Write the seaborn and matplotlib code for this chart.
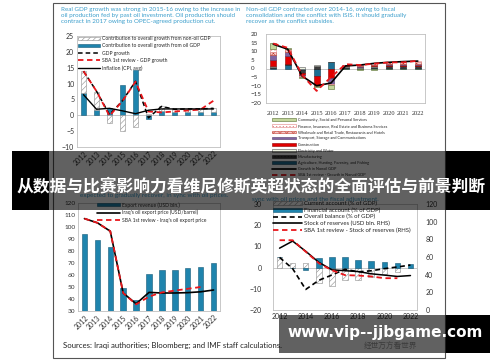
import numpy as np
import matplotlib
matplotlib.use("Agg")
import matplotlib.pyplot as plt
import seaborn as sns
from matplotlib.patches import Rectangle, Patch
from matplotlib.lines import Line2D

# ---------------- data ----------------
years = [2012, 2013, 2014, 2015, 2016, 2017, 2018, 2019, 2020, 2021, 2022]

# Top-left: real GDP growth
tl_oil = [7.0, 1.8, 2.3, 9.6, 14.4, -1.2, 1.2, 1.0, 1.0, 1.0, 1.0]
tl_nonoil = [7.0, 5.6, -2.3, -5.0, -3.7, 0.4, 1.6, 0.9, 1.0, 1.0, 1.2]
tl_gdp = [13.9, 7.6, 0.2, 4.6, 10.7, -0.8, 2.8, 1.9, 2.0, 2.0, 2.2]
tl_sba = [13.9, 7.6, -0.2, 4.5, 10.6, 1.2, 0.9, 1.2, 1.5, 1.8, 4.6]
tl_cpi = [6.5, 1.9, 2.2, 1.4, 0.5, 1.6, 2.0, 2.0, 2.0, 2.0, 2.0]

# Top-right: non-oil GDP contributions by sector
tr_agri = [0.3, 2.3, -1.0, -4.5, 3.5, 0.5, -0.5, 0.3, 0.3, 0.3, 0.3]
tr_manuf = [0.5, 0.3, -1.5, 1.5, 0.3, 0.5, 0.5, 0.8, 1.0, 1.0, 1.0]
tr_elec = [0.6, 0.2, 0.8, 0.5, 0.2, 0.2, 0.2, 0.3, 0.3, 0.3, 0.3]
tr_constr = [3.7, 4.5, -1.0, -4.8, -5.4, 0.2, 0.3, 0.5, 0.6, 0.6, 0.6]
tr_transport = [3.0, 2.4, -0.8, -0.5, -3.3, 0.2, 0.3, 0.4, 0.4, 0.5, 0.5]
tr_wholesale = [1.5, 0.8, -0.3, -0.3, -0.5, 0.3, 0.5, 0.8, 1.0, 1.1, 1.2]
tr_finance = [1.5, 0.8, -0.2, -0.2, -0.3, 0.2, 0.3, 0.3, 0.4, 0.4, 0.4]
tr_community = [3.5, 0.8, -0.5, -0.5, -2.5, -0.5, -0.3, -0.6, -0.4, -0.3, -0.3]
tr_growth = [14.1, 11.2, -4.4, -10.0, -8.4, 1.5, 2.0, 3.0, 3.6, 4.0, 4.3]
tr_sba = [14.5, 12.0, -3.8, -13.0, -5.0, 2.5, 2.0, 2.8, 3.5, 3.6, 4.5]
tr_labels = ["Community, Social and Personal Services",
             "Finance, Insurance, Real Estate and Business Services",
             "Wholesale and Retail Trade, Restaurants and Hotels",
             "Transport, Storage and Communications",
             "Construction",
             "Electricity and Water",
             "Manufacturing",
             "Agriculture, Hunting, Forestry, and Fishing",
             "Growth in Nonoil GDP",
             "SBA 1st review - Growth in Nonoil GDP"]

# Bottom-left: exports
bl_export = [94, 89, 83, 49, 39, 60.5, 64, 64.5, 65.5, 67, 70]
bl_price = [107, 103.5, 96.5, 45, 36, 45.5, 45, 45, 45.3, 46, 47.5]
bl_sba = [107, 103.5, 96.5, 45, 35.5, 42, 45.5, 47, 48.5, 50]

# Bottom-right: balance of payments
br_ca = [4.8, 2.0, 2.4, -7.1, -8.7, -6.0, -6.0, -4.5, -3.2, -2.0, -0.3]
br_fa = [0.0, -0.3, -1.2, 4.4, 5.2, 5.0, 3.8, 3.0, 2.5, 2.3, 1.5]
br_ob = [4.8, -0.5, -10.3, -6.0, -3.5, -0.8, -2.0, -1.5, -0.5, 0.3, 1.2]
br_res = [70, 78, 66.5, 54, 45.5, 44.5, 43.5, 41, 39.5, 38, 39]
br_sba = [79, 79, 66, 53, 45, 39.5, 39, 38, 36, 36]

# ---------------- style ----------------
sns.set_theme(style="white")
plt.rcParams["font.family"] = ["Lato", "DejaVu Sans"]
plt.rcParams["hatch.linewidth"] = 0.4

W, H = 500, 362
fig = plt.figure(figsize=(5, 3.62), dpi=100)


def R(x0, y0, x1, y1):
    return [x0 / W, 1 - y1 / H, (x1 - x0) / W, (y1 - y0) / H]


TXT = "#3d9fcc"
TEAL = "#1f84ad"
GRID = "#bfbfbf"
x = np.arange(len(years))


def frame(ax):
    for s in ax.spines.values():
        s.set_color(GRID)
        s.set_linewidth(0.6)
    ax.tick_params(length=0, colors="#333333", labelsize=5, pad=2)
    ax.set_xlim(-0.5, len(years) - 0.5)
    ax.set_xlabel("")
    ax.set_ylabel("")


def stacked(ax, series, styles, width):
    pos = np.zeros(len(years))
    neg = np.zeros(len(years))
    for vals, st in zip(series, styles):
        v = np.array(vals, dtype=float)
        base = np.where(v >= 0, pos, neg)
        ax.bar(x, v, width=width, bottom=base, linewidth=0.4, zorder=2, **st)
        pos = pos + np.where(v >= 0, v, 0)
        neg = neg + np.where(v < 0, v, 0)


def line(ax, vals, **kw):
    n = len(vals)
    sns.lineplot(x=x[:n], y=vals, ax=ax, zorder=4, **kw)


# document frame
fig.add_artist(Rectangle((53 / W, 1 - 358 / H), (445 - 53) / W, (358 - 3) / H,
                         fill=False, ec="#555555", lw=0.8, transform=fig.transFigure))

# ---------------- top-left ----------------
fig.text(61 / W, 1 - 7 / H,
         "Real GDP growth was strong in 2015-16 owing to the increase in\n"
         "oil production fed by past oil investment. Oil production should\n"
         "contract in 2017 owing to OPEC-agreed production cut.",
         color=TXT, fontsize=4.5, va="top", ha="left", linespacing=1.3)
ax1 = fig.add_axes(R(77, 36, 220, 147))
hatch_st = dict(facecolor="white", edgecolor="#8c8c8c", hatch="//////")
teal_st = dict(facecolor=TEAL, edgecolor="#145a78")
stacked(ax1, [tl_oil, tl_nonoil], [teal_st, hatch_st], 0.42)
ax1.axhline(0, color=GRID, lw=0.6, zorder=1)
line(ax1, tl_gdp, color="black", lw=1.1, linestyle=(0, (3, 2)))
line(ax1, tl_sba, color="#e8161b", lw=1.3, linestyle=(0, (3, 2)))
line(ax1, tl_cpi, color="black", lw=1.0)
frame(ax1)
ax1.set_ylim(-10, 25)
ax1.set_yticks(range(-10, 30, 5))
ax1.set_xticks(x)
ax1.set_xticklabels(years, rotation=45, ha="right", rotation_mode="anchor", fontsize=5)
h1 = [Patch(**hatch_st, lw=0.4), Patch(**teal_st, lw=0.4),
      Line2D([], [], color="black", lw=1.1, ls=(0, (3, 2))),
      Line2D([], [], color="#e8161b", lw=1.3, ls=(0, (3, 2))),
      Line2D([], [], color="black", lw=1.0)]
l1 = ["Contribution to overall growth from non-oil GDP",
      "Contribution to overall growth from oil GDP",
      "GDP growth", "SBA 1st review - GDP growth", "Inflation (CPI, avg)"]
ax1.legend(h1, l1, loc="upper left", bbox_to_anchor=(78 / W, 1 - 36 / H),
           bbox_transform=fig.transFigure, frameon=False, fontsize=3.6,
           handlelength=4.3, handleheight=0.6, labelspacing=0.45,
           handletextpad=0.4, borderpad=0, borderaxespad=0)

# ---------------- top-right ----------------
fig.text(246 / W, 1 - 7 / H,
         "Non-oil GDP contracted over 2014-16, owing to fiscal\n"
         "consolidation and the conflict with ISIS. It should gradually\n"
         "recover as the conflict subsides.",
         color=TXT, fontsize=4.5, va="top", ha="left", linespacing=1.3)
ax2 = fig.add_axes(R(266, 34, 425, 103))
sty = {
    "agri": dict(facecolor="#1d6f93", edgecolor="#0f3d52"),
    "manuf": dict(facecolor="#3c3c3c", edgecolor="#222222", hatch="....."),
    "elec": dict(facecolor="#eef3e2", edgecolor="#555555"),
    "constr": dict(facecolor="#e00000", edgecolor="#900000"),
    "transport": dict(facecolor="#8064a2", edgecolor="#4f3b66"),
    "wholesale": dict(facecolor="#f6caca", edgecolor="#c0392b", hatch="xxxxx"),
    "finance": dict(facecolor="white", edgecolor="#e08080", hatch="....."),
    "community": dict(facecolor="#c3d69b", edgecolor="#556b2f"),
}
stacked(ax2,
        [tr_agri, tr_manuf, tr_elec, tr_constr, tr_transport, tr_wholesale, tr_finance, tr_community],
        [sty["agri"], sty["manuf"], sty["elec"], sty["constr"], sty["transport"],
         sty["wholesale"], sty["finance"], sty["community"]], 0.42)
ax2.axhline(0, color=GRID, lw=0.6, zorder=1)
line(ax2, tr_growth, color="black", lw=1.2)
line(ax2, tr_sba, color="#e8161b", lw=1.3, linestyle=(0, (3, 2)))
frame(ax2)
ax2.set_ylim(-20, 20)
ax2.set_yticks(range(-20, 25, 5))
ax2.tick_params(axis="y", labelsize=4.5, pad=11)
for t in ax2.get_yticklabels():
    t.set_ha("left")
ax2.set_xticks(x)
ax2.set_xticklabels(years, fontsize=4.6, family="Liberation Serif")
ax2.tick_params(axis="x", pad=6)
h2 = [Patch(**sty["community"], lw=0.4), Patch(**sty["finance"], lw=0.4),
      Patch(**sty["wholesale"], lw=0.4), Patch(**sty["transport"], lw=0.4),
      Patch(**sty["constr"], lw=0.4), Patch(**sty["elec"], lw=0.4),
      Patch(**sty["manuf"], lw=0.4), Patch(**sty["agri"], lw=0.4),
      Line2D([], [], color="black", lw=1.2),
      Line2D([], [], color="#e8161b", lw=1.3, ls=(0, (3, 2)))]
ax2.legend(h2, tr_labels, loc="upper left", bbox_to_anchor=(272 / W, 1 - 118 / H),
           bbox_transform=fig.transFigure, frameon=False, fontsize=2.8,
           handlelength=6.2, handleheight=0.7, labelspacing=0.55,
           handletextpad=0.5, borderpad=0, borderaxespad=0)

# ---------------- bottom-left ----------------
fig.text(80 / W, 1 - 196 / H, "expected to gradually recover, in sync with oil prices.",
         color=TXT, fontsize=4.6, va="center", ha="left")
ax3 = fig.add_axes(R(78, 203, 220, 311))
ax3.bar(x, np.array(bl_export) - 30, bottom=30, width=0.42, color=TEAL,
        edgecolor="#145a78", linewidth=0.4, zorder=2)
line(ax3, bl_price, color="black", lw=1.2)
line(ax3, bl_sba, color="#e8161b", lw=1.3, linestyle=(0, (3, 2)))
frame(ax3)
ax3.set_ylim(30, 120)
ax3.set_yticks(range(30, 130, 10))
ax3.tick_params(axis="y", labelsize=4.6)
ax3.set_xticks(x)
ax3.set_xticklabels(years, rotation=45, ha="right", rotation_mode="anchor", fontsize=5)
h3 = [Patch(facecolor=TEAL, edgecolor="#145a78", lw=0.4),
      Line2D([], [], color="black", lw=1.2),
      Line2D([], [], color="#e8161b", lw=1.3, ls=(0, (3, 2)))]
l3 = ["Export revenue (USD bln.)", "Iraq's oil export price (USD/barrel)",
      "SBA 1st review - Iraq's oil export price"]
ax3.legend(h3, l3, loc="upper left", bbox_to_anchor=(97 / W, 1 - 202 / H),
           bbox_transform=fig.transFigure, frameon=False, fontsize=3.6,
           handlelength=4.5, handleheight=0.6, labelspacing=0.45,
           handletextpad=0.5, borderpad=0, borderaxespad=0)

fig.text(63 / W, 1 - 345 / H, "Sources: Iraqi authorities; Bloomberg; and IMF staff calculations.",
         color="#222222", fontsize=5.6, va="center", ha="left")

# ---------------- bottom-right ----------------
fig.text(252 / W, 1 - 199 / H, "sync with oil prices and the fiscal adjustment.",
         color=TXT, fontsize=4.6, va="center", ha="left")
ax4 = fig.add_axes(R(273, 204, 417, 310))
stacked(ax4, [br_ca, br_fa], [hatch_st, teal_st], 0.42)
ax4.axhline(0, color=GRID, lw=0.6, zorder=1)
line(ax4, br_ob, color="black", lw=1.2, linestyle=(0, (3, 2)))
frame(ax4)
ax4.set_ylim(-20, 30)
ax4.set_yticks(range(-20, 40, 10))
ax4.tick_params(axis="y", pad=8)
ax4.set_xticks(x[::2])
ax4.set_xticklabels(years[::2], fontsize=5)
ax4b = ax4.twinx()
sns.lineplot(x=x, y=br_res, ax=ax4b, color="black", lw=1.1, zorder=4)
sns.lineplot(x=x[:len(br_sba)], y=br_sba, ax=ax4b, color="#e8161b", lw=1.3,
             linestyle=(0, (3, 2)), zorder=4)
ax4b.set_ylim(0, 120)
ax4b.set_yticks(range(0, 140, 20))
ax4b.tick_params(length=0, colors="#333333", labelsize=5, pad=6)
ax4b.set_ylabel("")
for s in ax4b.spines.values():
    s.set_visible(False)
h4 = [Patch(**hatch_st, lw=0.4), Patch(**teal_st, lw=0.4),
      Line2D([], [], color="black", lw=1.2, ls=(0, (3, 2))),
      Line2D([], [], color="black", lw=1.2),
      Line2D([], [], color="#e8161b", lw=1.3, ls=(0, (3, 2)))]
l4 = ["Current account (% of GDP)", "Financial account (% of GDP)",
      "Overall balance (% of GDP)", "Stock of reserves (USD bln. RHS)",
      "SBA 1st review - Stock of reserves (RHS)"]
ax4b.legend(h4, l4, loc="upper left", bbox_to_anchor=(273 / W, 1 - 201 / H),
            bbox_transform=fig.transFigure, frameon=False, fontsize=4.3,
            handlelength=4.8, handleheight=0.6, labelspacing=0.2,
            handletextpad=0.4, borderpad=0, borderaxespad=0)

fig.text(390 / W, 1 - 346 / H, "经世万方看世界", color="#9a9a9a", fontsize=5.5,
         family=["Noto Sans CJK SC", "DejaVu Sans"], va="center", ha="center")

# ---------------- overlays ----------------
def box(x0, y0, x1, y1, alpha):
    fig.add_artist(Rectangle((x0 / W, 1 - y1 / H), (x1 - x0) / W, (y1 - y0) / H,
                             color="black", alpha=alpha, lw=0,
                             transform=fig.transFigure, zorder=20))

box(12, 151, 49, 210, 1.0)
box(49, 151, 446, 210, 0.62)
box(446, 151, 490, 210, 1.0)
fig.text(251 / W, 1 - 186 / H, "从数据与比赛影响力看维尼修斯英超状态的全面评估与前景判断",
         color="white", fontsize=12.1, fontweight="bold",
         family=["Noto Sans CJK SC", "DejaVu Sans"], ha="center", va="center", zorder=21)

box(279, 315, 446, 353, 0.62)
box(446, 315, 490, 353, 1.0)
fig.text(385 / W, 1 - 333 / H, "www.vip--jjbgame.com", color="white", fontsize=11,
         fontweight="bold", family="DejaVu Sans", ha="center", va="center", zorder=21)

fig.savefig("out.png", dpi=100)
